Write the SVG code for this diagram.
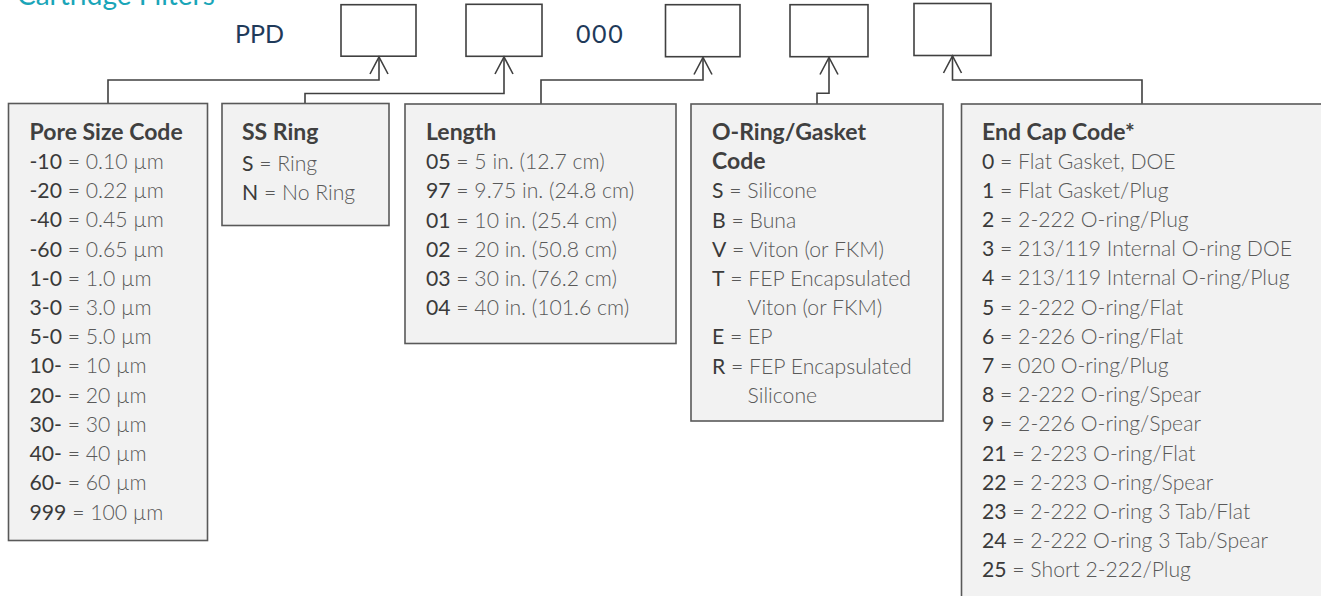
<svg xmlns="http://www.w3.org/2000/svg" width="1321" height="596" viewBox="0 0 1321 596">
<style>
  .box { fill: #f2f2f2; stroke: #595959; stroke-width: 1.6; }
  .sq { fill: #ffffff; stroke: #404040; stroke-width: 1.6; }
  .con { fill: none; stroke: #404040; stroke-width: 1.6; marker-end: url(#arr); }
  text { font-family: Lato, "Open Sans", "Liberation Sans", sans-serif; font-size: 21.2px; }
  .t { font-weight: 700; fill: #404040; font-size: 23px; }
  .b { font-weight: 300; fill: #595959; }
  .k { font-weight: 400; fill: #3a3a3a; }
  .code { font-size: 25px; fill: #1f3a5a; font-weight: 400; }
  .title { font-size: 28px; fill: #1aa5b8; font-weight: 400; }
</style>
<defs>
  <marker id="arr" markerUnits="userSpaceOnUse" viewBox="-19 -11 21 22" refX="0" refY="0" markerWidth="21" markerHeight="22" orient="auto">
    <path d="M-17,-9 L0,0 L-17,9" fill="none" stroke="#404040" stroke-width="1.6"/>
  </marker>
</defs>

<text class="title" x="17" y="5">Cartridge Filters</text>

<g id="code-fixed">
  <text class="code" x="235" y="42.5">PPD</text>
  <text class="code" x="576" y="42.5" letter-spacing="1.6">000</text>
</g>

<g id="slot1"><rect class="sq" x="341" y="4.7" width="75" height="51.5"/></g>
<g id="slot2"><rect class="sq" x="466" y="4.3" width="76" height="52"/></g>
<g id="slot3"><rect class="sq" x="665.5" y="4.7" width="74.5" height="52"/></g>
<g id="slot4"><rect class="sq" x="790" y="4.7" width="78" height="52"/></g>
<g id="slot5"><rect class="sq" x="914" y="3.5" width="77" height="52"/></g>

<g id="connectors">
  <path class="con" d="M108,103.5 V80 H379 V57"/>
  <path class="con" d="M305,103.5 V93.5 H504 V57"/>
  <path class="con" d="M541,104 V80 H703 V57.5"/>
  <path class="con" d="M817,104 V93.3 H829 V57.5"/>
  <path class="con" d="M1142,104 V80 H952.5 V56"/>
</g>

<g id="pore-size">
  <rect class="box" x="8.5" y="103.5" width="199" height="437"/>
  <text x="29.5" y="139.5" class="t">Pore Size Code</text>
  <text x="29.5" y="169"><tspan class="k">-10</tspan><tspan class="b"> = 0.10 µm</tspan></text>
  <text x="29.5" y="198.3"><tspan class="k">-20</tspan><tspan class="b"> = 0.22 µm</tspan></text>
  <text x="29.5" y="227.4"><tspan class="k">-40</tspan><tspan class="b"> = 0.45 µm</tspan></text>
  <text x="29.5" y="256.6"><tspan class="k">-60</tspan><tspan class="b"> = 0.65 µm</tspan></text>
  <text x="29.5" y="285.8"><tspan class="k">1-0</tspan><tspan class="b"> = 1.0 µm</tspan></text>
  <text x="29.5" y="315"><tspan class="k">3-0</tspan><tspan class="b"> = 3.0 µm</tspan></text>
  <text x="29.5" y="344.2"><tspan class="k">5-0</tspan><tspan class="b"> = 5.0 µm</tspan></text>
  <text x="29.5" y="373.4"><tspan class="k">10-</tspan><tspan class="b"> = 10 µm</tspan></text>
  <text x="29.5" y="402.6"><tspan class="k">20-</tspan><tspan class="b"> = 20 µm</tspan></text>
  <text x="29.5" y="431.8"><tspan class="k">30-</tspan><tspan class="b"> = 30 µm</tspan></text>
  <text x="29.5" y="461"><tspan class="k">40-</tspan><tspan class="b"> = 40 µm</tspan></text>
  <text x="29.5" y="490.2"><tspan class="k">60-</tspan><tspan class="b"> = 60 µm</tspan></text>
  <text x="29.5" y="519.6"><tspan class="k">999</tspan><tspan class="b"> = 100 µm</tspan></text>
</g>

<g id="ss-ring">
  <rect class="box" x="222" y="103.5" width="167" height="122"/>
  <text x="242" y="139.5" class="t">SS Ring</text>
  <text x="242" y="170.5"><tspan class="k">S</tspan><tspan class="b"> = Ring</tspan></text>
  <text x="242" y="199.5"><tspan class="k">N</tspan><tspan class="b"> = No Ring</tspan></text>
</g>

<g id="length">
  <rect class="box" x="405" y="104" width="271" height="239.5"/>
  <text x="426" y="140" class="t">Length</text>
  <text x="426" y="169.2"><tspan class="k">05</tspan><tspan class="b"> = 5 in. (12.7 cm)</tspan></text>
  <text x="426" y="198.4"><tspan class="k">97</tspan><tspan class="b"> = 9.75 in. (24.8 cm)</tspan></text>
  <text x="426" y="227.6"><tspan class="k">01</tspan><tspan class="b"> = 10 in. (25.4 cm)</tspan></text>
  <text x="426" y="256.8"><tspan class="k">02</tspan><tspan class="b"> = 20 in. (50.8 cm)</tspan></text>
  <text x="426" y="286"><tspan class="k">03</tspan><tspan class="b"> = 30 in. (76.2 cm)</tspan></text>
  <text x="426" y="315.2"><tspan class="k">04</tspan><tspan class="b"> = 40 in. (101.6 cm)</tspan></text>
</g>

<g id="o-ring">
  <rect class="box" x="691" y="104" width="252" height="317"/>
  <text x="712" y="140" class="t">O-Ring/Gasket</text>
  <text x="712" y="169.2" class="t">Code</text>
  <text x="712" y="198.4"><tspan class="k">S</tspan><tspan class="b"> = Silicone</tspan></text>
  <text x="712" y="227.6"><tspan class="k">B</tspan><tspan class="b"> = Buna</tspan></text>
  <text x="712" y="256.8"><tspan class="k">V</tspan><tspan class="b"> = Viton (or FKM)</tspan></text>
  <text x="712" y="286"><tspan class="k">T</tspan><tspan class="b"> = FEP Encapsulated</tspan></text>
  <text x="747.5" y="315.2" class="b">Viton (or FKM)</text>
  <text x="712" y="344.4"><tspan class="k">E</tspan><tspan class="b"> = EP</tspan></text>
  <text x="712" y="373.6"><tspan class="k">R</tspan><tspan class="b"> = FEP Encapsulated</tspan></text>
  <text x="747.5" y="402.8" class="b">Silicone</text>
</g>

<g id="end-cap">
  <rect class="box" x="961.5" y="104" width="420" height="560"/>
  <text x="982" y="139.5" class="t">End Cap Code*</text>
  <text x="982" y="168.5"><tspan class="k">0</tspan><tspan class="b"> = Flat Gasket, DOE</tspan></text>
  <text x="982" y="197.7"><tspan class="k">1</tspan><tspan class="b"> = Flat Gasket/Plug</tspan></text>
  <text x="982" y="226.9"><tspan class="k">2</tspan><tspan class="b"> = 2-222 O-ring/Plug</tspan></text>
  <text x="982" y="256.1"><tspan class="k">3</tspan><tspan class="b"> = 213/119 Internal O-ring DOE</tspan></text>
  <text x="982" y="285.3"><tspan class="k">4</tspan><tspan class="b"> = 213/119 Internal O-ring/Plug</tspan></text>
  <text x="982" y="314.5"><tspan class="k">5</tspan><tspan class="b"> = 2-222 O-ring/Flat</tspan></text>
  <text x="982" y="343.7"><tspan class="k">6</tspan><tspan class="b"> = 2-226 O-ring/Flat</tspan></text>
  <text x="982" y="372.9"><tspan class="k">7</tspan><tspan class="b"> = 020 O-ring/Plug</tspan></text>
  <text x="982" y="402.1"><tspan class="k">8</tspan><tspan class="b"> = 2-222 O-ring/Spear</tspan></text>
  <text x="982" y="431.3"><tspan class="k">9</tspan><tspan class="b"> = 2-226 O-ring/Spear</tspan></text>
  <text x="982" y="460.5"><tspan class="k">21</tspan><tspan class="b"> = 2-223 O-ring/Flat</tspan></text>
  <text x="982" y="489.7"><tspan class="k">22</tspan><tspan class="b"> = 2-223 O-ring/Spear</tspan></text>
  <text x="982" y="518.9"><tspan class="k">23</tspan><tspan class="b"> = 2-222 O-ring 3 Tab/Flat</tspan></text>
  <text x="982" y="548.1"><tspan class="k">24</tspan><tspan class="b"> = 2-222 O-ring 3 Tab/Spear</tspan></text>
  <text x="982" y="577.3"><tspan class="k">25</tspan><tspan class="b"> = Short 2-222/Plug</tspan></text>
</g>
</svg>
